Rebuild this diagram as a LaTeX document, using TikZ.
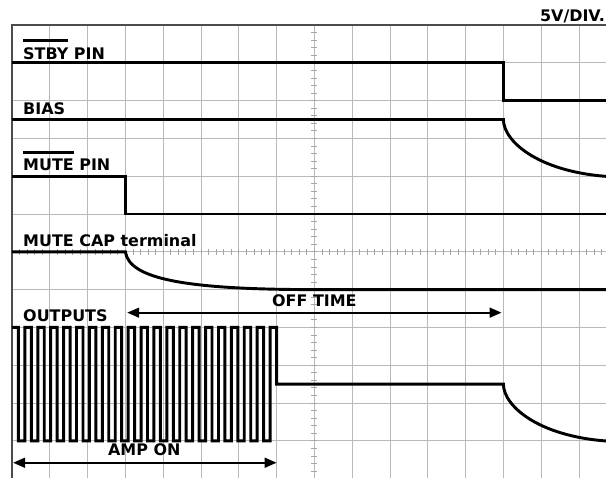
\documentclass[tikz,border=0pt]{standalone}
\usepackage{fontspec}
\setmainfont{DejaVu Sans}
\usetikzlibrary{arrows.meta}

\newcommand{\barra}[1]{\vbox{\hrule height 2pt \kern 4pt \hbox{#1}}}

\begin{document}
\begin{tikzpicture}[
	grade/.style   = {gray!55, line width = 0.7pt},
	moldura/.style = {black!70, line width = 1.1pt},
	traco/.style   = {gray!70, line width = 0.6pt},
	sinal/.style   = {black, line width = 2.2pt},
	rotulo/.style  = {black, anchor = base west, inner sep = 0pt, font = \bfseries\fontsize{12}{14}\selectfont},
	seta/.style    = {black, line width = 1.3pt, {Triangle[length = 9pt, width = 7.5pt]}-{Triangle[length = 9pt, width = 7.5pt]}}
]

	\useasboundingbox (-0.317, 0.661) rectangle (15.714, -11.958);
	\clip (-0.317, 0.661) rectangle (15.714, -11.958);

	% grade
	\foreach \x in {1, ..., 15} \draw[grade] (\x, 0) -- (\x, -12.2);
	\foreach \y in {-1, ..., -11} \draw[grade] (0, \y) -- (16.2, \y);

	% eixos centrais
	\foreach \t in {0.2, 0.4, ..., 15.9} \draw[traco] (\t, -5.92) -- (\t, -6.08);
	\foreach \t in {-0.2, -0.4, ..., -11.9} \draw[traco] (7.92, \t) -- (8.08, \t);

	\draw[moldura] (0, -12.2) -- (0, 0) -- (16.2, 0); % moldura

	% sinais
	\draw[sinal] (0, -1.0) -- (13, -1.0) -- (13, -2.0) -- (16.2, -2.0); % STBY
	\draw[sinal] (0, -2.5) -- (13, -2.5) .. controls (13, -3.1) and (14, -3.95) .. (16, -4.02); % BIAS
	\draw[sinal] (0, -4.0) -- ( 3, -4.0) -- ( 3, -5.0) -- (16.2, -5.0); % MUTE
	\draw[sinal] (0, -6.0) -- ( 3, -6.0) .. controls (3.1, -6.7) and (4.5, -7) .. (8, -7) -- (16.2, -7); % MUTE CAP
	\draw[sinal] (0, -8.0) \foreach \k in {1, ..., 20} { -- ++(0.1707, 0) -- ++(0, -3) -- ++(0.1707, 0) -- ++(0, 3) }
		-- ++(0.1707, 0) -- ++(0, -1.5) -- (13, -9.5) .. controls (13, -10.1) and (14, -10.95) .. (16, -11.02); % OUTPUTS

	% textos
	\node[rotulo, anchor = base east] (escala) at (15.69, 0.08) {5V/DIV.};
	\node[rotulo] (stby) at (0.29, -0.90) {\barra{STBY} PIN};
	\node[rotulo] (bias) at (0.29, -2.38) {BIAS};
	\node[rotulo] (mute) at (0.29, -3.86) {\barra{MUTE} PIN};
	\node[rotulo] (mcap) at (0.29, -5.87) {MUTE CAP terminal};
	\node[rotulo] (outs) at (0.29, -7.84) {OUTPUTS};

	% tempos
	\coordinate (offE) at ( 3.05, -7.61);
	\coordinate (offD) at (12.95, -7.61);
	\draw[seta] (offE) -- (offD);
	\node[rotulo, anchor = base] (off) at (8.0, -7.46) {OFF TIME};

	\coordinate (ampE) at (0.03, -11.58);
	\coordinate (ampD) at (7.00, -11.58);
	\draw[seta] (ampE) -- (ampD);
	\node[rotulo, anchor = base] (amp) at (3.5, -11.40) {AMP ON};

\end{tikzpicture}
\end{document}
